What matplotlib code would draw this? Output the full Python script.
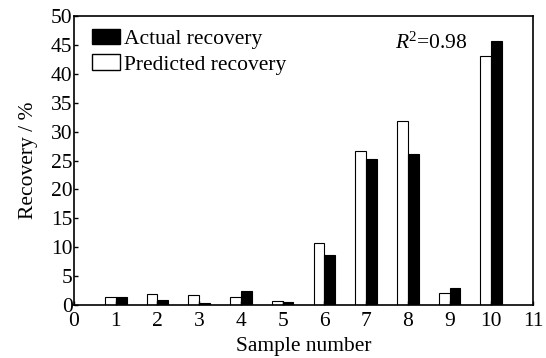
import matplotlib
matplotlib.use("Agg")
import matplotlib.pyplot as plt
import numpy as np
from matplotlib.patches import Patch

plt.rcParams['font.family'] = ['Liberation Serif', 'DejaVu Serif']
plt.rcParams['mathtext.fontset'] = 'custom'
plt.rcParams['mathtext.it'] = 'Liberation Serif:italic'
plt.rcParams['mathtext.rm'] = 'Liberation Serif'

samples = [1, 2, 3, 4, 5, 6, 7, 8, 9, 10]
predicted = [1.4, 1.85, 1.7, 1.3, 0.7, 10.7, 26.7, 31.8, 2.0, 43.0]
actual = [1.3, 0.9, 0.4, 2.4, 0.5, 8.7, 25.3, 26.2, 3.0, 45.7]
xticks = list(range(0, 12))
yticks = list(range(0, 51, 5))

FS = 15.5
fig = plt.figure(figsize=(5.46, 3.58), dpi=100)
ax = fig.add_axes([74/546, 1-305/358, (533-74)/546, (305-16)/358])

x = np.array(samples)
w = 0.26
ax.bar(x - w/2, predicted, width=w, color='white', edgecolor='black', linewidth=0.8)
ax.bar(x + w/2, actual, width=w, color='black', edgecolor='black', linewidth=0.8)

ax.set_xlim(0, 11)
ax.set_ylim(0, 50)
ax.set_xticks(xticks)
ax.set_yticks(yticks)
ax.tick_params(direction='in', labelsize=FS, length=3, width=1)
ax.tick_params(axis='x', pad=5)
ax.tick_params(axis='y', pad=1)
for s in ax.spines.values():
    s.set_linewidth(1.2)
ax.set_xlabel('Sample number', fontsize=FS, labelpad=4)
ax.set_ylabel('Recovery / %', fontsize=FS, labelpad=9)

handles = [Patch(facecolor='black', edgecolor='black', label='Actual recovery'),
           Patch(facecolor='white', edgecolor='black', label='Predicted recovery')]
ax.legend(handles=handles, loc='upper left', frameon=False, fontsize=FS,
          handlelength=1.3, handleheight=0.7, handletextpad=0.2, labelspacing=0.25,
          borderaxespad=0, borderpad=0, bbox_to_anchor=(0.039, 0.955))
ax.text(0.70, 0.905, r'$R$$^2$=0.98', transform=ax.transAxes, fontsize=FS, va='center', ha='left')

fig.savefig('out.png', dpi=100)
